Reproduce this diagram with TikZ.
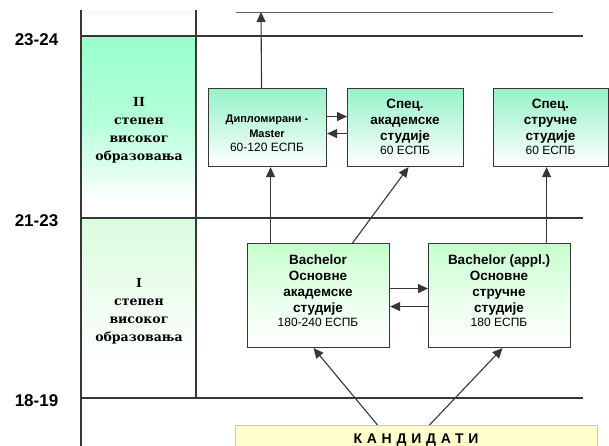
\documentclass[tikz,border=0pt]{standalone}
\usepackage{fontspec}
\setmainfont{Liberation Sans}
\newfontfamily\serifb{DejaVu Serif}
\usetikzlibrary{arrows.meta}
\definecolor{ln}{RGB}{55,55,55}
\definecolor{cellII}{RGB}{153,255,204}
\definecolor{cellI}{RGB}{218,252,222}
\definecolor{boxg}{RGB}{150,242,200}
\definecolor{bachg}{RGB}{198,255,204}
\definecolor{kandy}{RGB}{255,255,204}
\definecolor{kandb}{RGB}{200,200,200}
\begin{document}
\begin{tikzpicture}[x=1pt,y=-1pt,
  grid/.style={draw=ln, line width=1.1pt},
  arr/.style={draw=ln, line width=1.1pt, -{Triangle[length=10pt,width=9pt]}},
  box/.style={draw=ln, line width=1.1pt, anchor=north west, inner sep=0pt, top color=boxg, bottom color=white},
  bbox/.style={box, top color=bachg, bottom color=white, middle color=bachg!40!white},
  btxt/.style={align=center, inner sep=0pt, font=\bfseries\fontsize{13.5}{16}\selectfont},
  ltxt/.style={align=center, inner sep=0pt, font=\serifb\bfseries\fontsize{12.5}{18}\selectfont},
  age/.style={inner sep=0pt, font=\bfseries\fontsize{17}{17}\selectfont}]
\useasboundingbox (0,0) rectangle (609,446);
\fill[white] (0,0) rectangle (609,446);
% left column shadings
\fill[gray!4] (82,10) rectangle (195,16);
\shade[top color=cellII, bottom color=white, middle color=cellII!75!white] (82,36) rectangle (195,202);
\shade[top color=cellI, bottom color=white] (82,218) rectangle (195,365);
% grid lines
\draw[grid] (81,10) -- (81,446);
\draw[grid] (196,10) -- (196,398);
\draw[grid] (81,36) -- (583,36);
\draw[grid] (81,218) -- (583,218);
\draw[grid] (81,398) -- (583,398);
\draw[draw=ln!80, line width=0.9pt] (236,12) -- (553,12);
\coordinate (topend) at (261,12);
% age labels
\node[age] (a1) at (36.5,40) {23-24};
\node[age] (a2) at (36.5,221) {21-23};
\node[age] (a3) at (36.5,401) {18-19};
% left texts
\node[ltxt] (cII) at (139,130) {II\\степен\\високог\\образовања};
\node[ltxt] (cI) at (139,311) {I\\степен\\високог\\образовања};
% boxes
\node[box, minimum width=118pt, minimum height=78pt] (dipl) at (208,88) {};
\node[box, minimum width=116pt, minimum height=78pt] (spakad) at (347,88) {};
\node[box, minimum width=115pt, minimum height=78pt] (spstr) at (493,88) {};
\node[bbox, minimum width=142pt, minimum height=104pt] (bach) at (247,243) {};
\node[bbox, minimum width=142pt, minimum height=104pt] (bachappl) at (428,243) {};
\node[draw=kandb, line width=1pt, fill=kandy, anchor=north west, inner sep=0pt, minimum width=362pt, minimum height=32pt] (kand) at (235,425) {};
% box texts
\node[align=center, inner sep=0pt, font=\bfseries\fontsize{11}{15}\selectfont] (diplt) at (267,133) {Дипломирани -\\Master\\[-1pt]\mdseries\fontsize{12}{15}\selectfont 60-120 ЕСПБ};
\node[btxt] (spakadt) at (405,127) {Спец.\\академске\\студије\\[-2pt]\mdseries\fontsize{12}{15}\selectfont 60 ЕСПБ};
\node[btxt] (spstrt) at (550.5,127) {Спец.\\стручне\\студије\\[-2pt]\mdseries\fontsize{12}{15}\selectfont 60 ЕСПБ};
\node[btxt] (bacht) at (318,291) {Bachelor\\Основне\\академске\\студије\\[-2pt]\mdseries\fontsize{12}{15}\selectfont 180-240 ЕСПБ};
\node[btxt] (bachapplt) at (499,291) {Bachelor (appl.)\\Основне\\стручне\\студије\\[-2pt]\mdseries\fontsize{12}{15}\selectfont 180 ЕСПБ};
\node[inner sep=0pt, font=\bfseries\fontsize{14}{14}\selectfont] (kandt) at (416,440) {\addfontfeature{LetterSpace=34}КАНДИДАТИ};
% arrows
\draw[arr] ([xshift=-6pt]dipl.north) -- (topend);
\draw[arr] ([xshift=3pt]dipl.south |- bach.north) -- ([xshift=3pt]dipl.south);
\draw[arr] ([xshift=34pt]bach.north) -- ([xshift=3pt]spakad.south);
\draw[arr] ([xshift=47pt]bachappl.north) -- ([xshift=-4.5pt]spstr.south);
\draw[arr] ([yshift=11pt]dipl.east) -- ([yshift=11pt]spakad.west);
\draw[arr] ([yshift=-6pt]spakad.west) -- ([yshift=-6pt]dipl.east);
\draw[arr] ([yshift=7pt]bach.east) -- ([yshift=7pt]bachappl.west);
\draw[arr] ([yshift=-11pt]bachappl.west) -- ([yshift=-11pt]bach.east);
\draw[arr] ([xshift=-39pt]kand.north) -- ([xshift=-5pt]bach.south);
\draw[arr] ([xshift=13pt]kand.north) -- ([xshift=3pt]bachappl.south);
\end{tikzpicture}
\end{document}
